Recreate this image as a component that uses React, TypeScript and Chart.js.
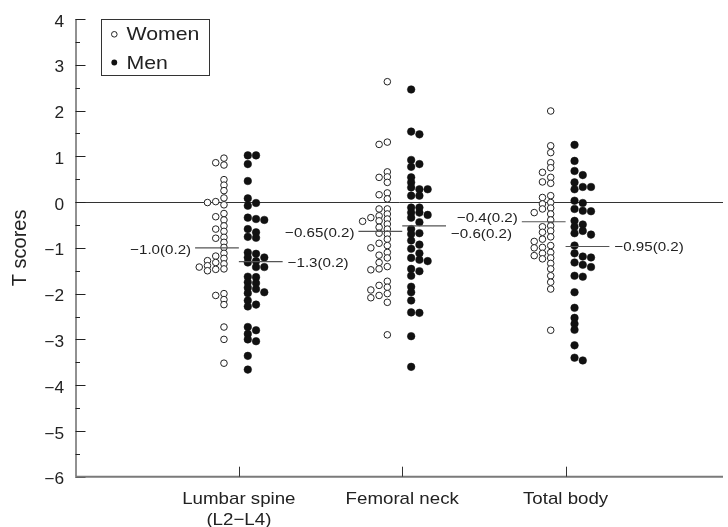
import React, { useEffect, useRef } from "react";
import { Chart, registerables } from "chart.js";

Chart.register(...registerables);

// ---------- data ----------
const categories: string[][] = [["Lumbar spine", "(L2\u2212L4)"], ["Femoral neck"], ["Total body"]];
const seriesLabels = ["Women", "Men"];
const yTickValues = [4, 3, 2, 1, 0, -1, -2, -3, -4, -5, -6];

const womenLumbar = [0.96, 0.86, 0.81, 0.49, 0.37, 0.25, 0.09, 0.01, -0.01, -0.06, -0.25, -0.32, -0.39, -0.52, -0.59, -0.64, -0.77, -0.79, -0.88, -0.99, -1.12, -1.18, -1.23, -1.28, -1.32, -1.35, -1.39, -1.42, -1.46, -1.5, -1.47, -2.0, -2.04, -2.13, -2.24, -2.73, -3.0, -3.52];
const menLumbar = [1.02, 1.02, 0.83, 0.46, 0.08, -0.02, -0.08, -0.34, -0.37, -0.39, -0.59, -0.66, -0.76, -0.78, -1.1, -1.13, -1.21, -1.21, -1.29, -1.32, -1.42, -1.42, -1.63, -1.64, -1.75, -1.77, -1.87, -1.9, -1.97, -1.99, -2.15, -2.24, -2.28, -2.73, -2.8, -2.88, -3.0, -3.04, -3.36, -3.66];
const womenFemoral = [2.63, 1.31, 1.26, 0.66, 0.55, 0.54, 0.43, 0.2, 0.16, 0.07, -0.15, -0.15, -0.26, -0.3, -0.34, -0.37, -0.41, -0.42, -0.48, -0.55, -0.59, -0.68, -0.7, -0.81, -0.9, -0.95, -1.0, -1.1, -1.16, -1.22, -1.32, -1.41, -1.46, -1.48, -1.73, -1.82, -1.86, -1.92, -2.0, -2.04, -2.09, -2.19, -2.9];
const menFemoral = [2.46, 1.54, 1.48, 0.92, 0.83, 0.77, 0.54, 0.43, 0.32, 0.28, 0.28, 0.14, 0.14, -0.12, -0.12, -0.23, -0.23, -0.28, -0.34, -0.44, -0.59, -0.68, -0.7, -0.84, -0.93, -1.02, -1.12, -1.22, -1.26, -1.29, -1.46, -1.51, -1.61, -1.85, -1.97, -2.15, -2.41, -2.42, -2.93, -3.6];
const womenTotal = [1.99, 1.23, 1.08, 0.86, 0.75, 0.65, 0.54, 0.44, 0.41, 0.14, 0.1, -0.01, -0.04, -0.13, -0.15, -0.23, -0.26, -0.39, -0.52, -0.54, -0.63, -0.66, -0.76, -0.81, -0.86, -0.95, -0.99, -1.0, -1.1, -1.12, -1.17, -1.22, -1.24, -1.34, -1.46, -1.61, -1.75, -1.9, -2.8];
const menTotal = [1.25, 0.9, 0.68, 0.59, 0.43, 0.33, 0.33, 0.28, 0.03, -0.02, -0.15, -0.19, -0.2, -0.41, -0.49, -0.54, -0.63, -0.68, -0.71, -0.95, -1.12, -1.19, -1.21, -1.32, -1.37, -1.42, -1.61, -1.63, -1.97, -2.31, -2.53, -2.66, -2.79, -3.13, -3.4, -3.46];

const womenMeans = [-1.0, -0.64, -0.43];
const menMeans = [-1.3, -0.52, -0.97];
const womenMeanLabels = ["\u22121.0(0.2)", "\u22120.65(0.2)", "\u22120.4(0.2)"];
const menMeanLabels = ["\u22121.3(0.2)", "\u22120.6(0.2)", "\u22120.95(0.2)"];

// ---------- layout constants (style, not data) ----------
const X_MAX = 3.9635;
const UNIT_X = 164.5; // px per x unit
const UNIT_Y = 45.8; // px per y unit
const DX = 8.3 / UNIT_X; // swarm column spacing
const MIN_GAP = 4.9 / UNIT_Y;
const WOMEN_BASE = -15 / UNIT_X;
const MEN_BASE = 9 / UNIT_X;
const MEAN_HALF = 0.268;
const FONT = '"Liberation Sans", Arial, Helvetica, sans-serif';

function swarm(values: number[], center: number, base: number, dir: number) {
  const placed: { col: number; y: number }[] = [];
  const sorted = [...values].sort((a, b) => b - a);
  return sorted.map((v) => {
    let col = 0;
    while (placed.some((p) => p.col === col && Math.abs(p.y - v) < MIN_GAP)) col++;
    placed.push({ col, y: v });
    return { x: center + base + dir * col * DX, y: v };
  });
}

function stretchText(ctx: CanvasRenderingContext2D, s: string, x: number, y: number, align: CanvasTextAlign, sx: number) {
  ctx.save();
  ctx.translate(x, y);
  ctx.scale(sx, 1);
  ctx.textAlign = align;
  ctx.textBaseline = "alphabetic";
  ctx.fillText(s, 0, 0);
  ctx.restore();
}

export default function App() {
  const ref = useRef<HTMLCanvasElement | null>(null);

  useEffect(() => {
    if (!ref.current) return;
    const women = [womenLumbar, womenFemoral, womenTotal];
    const men = [menLumbar, menFemoral, menTotal];
    const womenPts = women.flatMap((vals, i) => swarm(vals, i + 1, WOMEN_BASE, -1));
    const menPts = men.flatMap((vals, i) => swarm(vals, i + 1, MEN_BASE, 1));

    const meanSets: any[] = [];
    womenMeans.forEach((m, i) => {
      meanSets.push({
        type: "line",
        data: [{ x: i + 1 - MEAN_HALF, y: m }, { x: i + 1, y: m }],
        borderColor: "#555",
        borderWidth: 1.2,
        pointRadius: 0,
        order: 0,
      });
    });
    menMeans.forEach((m, i) => {
      meanSets.push({
        type: "line",
        data: [{ x: i + 1, y: m }, { x: i + 1 + MEAN_HALF, y: m }],
        borderColor: "#555",
        borderWidth: 1.2,
        pointRadius: 0,
        order: 0,
      });
    });

    const decor = {
      id: "decor",
      beforeDatasetsDraw(chart: any) {
        const { ctx, chartArea, scales } = chart;
        const y0 = scales.y.getPixelForValue(0);
        ctx.save();
        ctx.strokeStyle = "#333";
        ctx.lineWidth = 1;
        ctx.beginPath();
        ctx.moveTo(chartArea.left, Math.round(y0) + 0.5);
        ctx.lineTo(chartArea.right, Math.round(y0) + 0.5);
        ctx.stroke();
        ctx.restore();
      },
      afterDraw(chart: any) {
        const { ctx, chartArea, scales } = chart;
        const xs = scales.x;
        const ys = scales.y;
        const left = chartArea.left;
        const bottom = chartArea.bottom;
        ctx.save();
        // left axis
        ctx.strokeStyle = "#222";
        ctx.lineWidth = 1;
        ctx.beginPath();
        ctx.moveTo(left + 0.5, ys.getPixelForValue(4));
        ctx.lineTo(left + 0.5, bottom);
        ctx.stroke();
        // y ticks
        yTickValues.forEach((v) => {
          const py = Math.round(ys.getPixelForValue(v)) + 0.5;
          ctx.beginPath();
          ctx.moveTo(left, py);
          ctx.lineTo(left + 10, py);
          ctx.stroke();
          if (v > -6) {
            const pm = Math.round(ys.getPixelForValue(v - 0.5)) + 0.5;
            ctx.beginPath();
            ctx.moveTo(left, pm);
            ctx.lineTo(left + 4.5, pm);
            ctx.stroke();
          }
        });
        // bottom axis
        ctx.strokeStyle = "#7a7a7a";
        ctx.lineWidth = 2;
        ctx.beginPath();
        ctx.moveTo(left, bottom);
        ctx.lineTo(chartArea.right, bottom);
        ctx.stroke();
        // x ticks
        ctx.strokeStyle = "#333";
        ctx.lineWidth = 1;
        categories.forEach((_, i) => {
          const px = Math.round(xs.getPixelForValue(i + 1)) + 0.5;
          ctx.beginPath();
          ctx.moveTo(px, bottom);
          ctx.lineTo(px, bottom - 10);
          ctx.stroke();
        });
        // y tick labels
        ctx.fillStyle = "#222";
        ctx.font = `16px ${FONT}`;
        yTickValues.forEach((v) => {
          const py = ys.getPixelForValue(v);
          const s = v < 0 ? "\u2212" + Math.abs(v) : String(v);
          stretchText(ctx, s, 64, py + 7.6, "right", 1.08);
        });
        // x category labels
        ctx.font = `17px ${FONT}`;
        categories.forEach((lines, i) => {
          const px = xs.getPixelForValue(i + 1);
          lines.forEach((ln, j) => {
            stretchText(ctx, ln, px, 503.5 + j * 21.5, "center", 1.1);
          });
        });
        // y title
        ctx.save();
        ctx.font = `20px ${FONT}`;
        ctx.translate(26, (ys.getPixelForValue(4) + bottom) / 2);
        ctx.rotate(-Math.PI / 2);
        ctx.textAlign = "center";
        ctx.textBaseline = "alphabetic";
        ctx.fillText("T scores", 0, 0);
        ctx.restore();
        // mean labels
        ctx.font = `13.5px ${FONT}`;
        const womenDy = [6.3, 5.7, 0.3];
        const menDy = [5.5, 12, 5];
        womenMeans.forEach((m, i) => {
          const px = xs.getPixelForValue(i + 1 - MEAN_HALF) - 4;
          stretchText(ctx, womenMeanLabels[i], px, ys.getPixelForValue(m) + womenDy[i], "right", 1.12);
        });
        menMeans.forEach((m, i) => {
          const px = xs.getPixelForValue(i + 1 + MEAN_HALF) + 5;
          stretchText(ctx, menMeanLabels[i], px, ys.getPixelForValue(m) + menDy[i], "left", 1.12);
        });
        // legend
        ctx.strokeStyle = "#333";
        ctx.lineWidth = 1;
        ctx.strokeRect(101.5, 19.5, 108, 56);
        ctx.beginPath();
        ctx.arc(114.3, 34.3, 2.8, 0, Math.PI * 2);
        ctx.fillStyle = "#fff";
        ctx.fill();
        ctx.strokeStyle = "#222";
        ctx.stroke();
        ctx.beginPath();
        ctx.arc(114.3, 62.5, 2.9, 0, Math.PI * 2);
        ctx.fillStyle = "#111";
        ctx.fill();
        ctx.fillStyle = "#222";
        ctx.font = `19px ${FONT}`;
        stretchText(ctx, seriesLabels[0], 126.5, 40.3, "left", 1.12);
        stretchText(ctx, seriesLabels[1], 126.5, 68.5, "left", 1.12);
        ctx.restore();
      },
    };

    const chart = new Chart(ref.current, {
      type: "scatter",
      data: {
        datasets: [
          ...meanSets,
          {
            label: seriesLabels[0],
            data: womenPts,
            pointRadius: 3.3,
            pointBackgroundColor: "#fff",
            pointBorderColor: "#222",
            pointBorderWidth: 1,
            order: 1,
          },
          {
            label: seriesLabels[1],
            data: menPts,
            pointRadius: 3.8,
            pointBackgroundColor: "#111",
            pointBorderColor: "#111",
            pointBorderWidth: 0.5,
            order: 1,
          },
        ],
      },
      options: {
        responsive: false,
        animation: false,
        layout: { padding: { left: 75.5, top: 19, right: 0, bottom: 50.3 } },
        plugins: { legend: { display: false }, tooltip: { enabled: false } },
        scales: {
          x: { type: "linear", min: 0, max: X_MAX, display: false },
          y: { type: "linear", min: -6, max: 4, display: false },
        },
      },
      plugins: [decor],
    });
    return () => chart.destroy();
  }, []);

  return (
    <div style={{ position: "absolute", left: 0, top: 0, background: "#fff" }}>
      <canvas ref={ref} width={728} height={527} style={{ display: "block" }} />
    </div>
  );
}
